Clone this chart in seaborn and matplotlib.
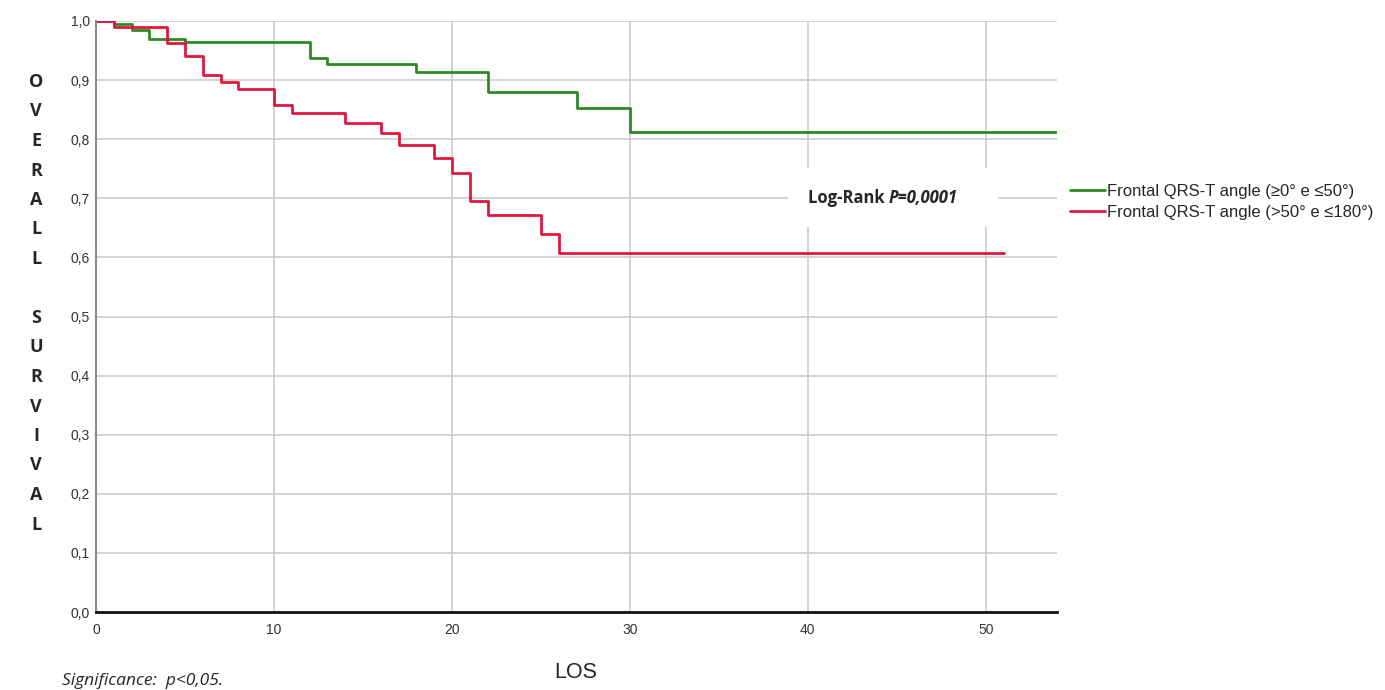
import pandas as pd
import matplotlib
matplotlib.use("Agg")
import matplotlib.pyplot as plt
import seaborn as sns
from matplotlib.patches import Rectangle
from matplotlib.lines import Line2D

# Kaplan-Meier step values
green_label = "Frontal QRS-T angle (\u22650\u00b0 e \u226450\u00b0)"
green_times = [0, 1, 2, 3, 5, 12, 13, 18, 22, 27, 30, 54]
green_surv = [1.0, 0.995, 0.985, 0.969, 0.964, 0.937, 0.927, 0.913, 0.880, 0.852, 0.812, 0.812]

red_label = "Frontal QRS-T angle (>50\u00b0 e \u2264180\u00b0)"
red_times = [0, 1, 4, 5, 6, 7, 8, 10, 11, 14, 16, 17, 19, 20, 21, 22, 25, 26, 51]
red_surv = [1.0, 0.990, 0.962, 0.940, 0.908, 0.897, 0.885, 0.858, 0.844, 0.828,
            0.810, 0.790, 0.768, 0.743, 0.696, 0.672, 0.640, 0.608, 0.608]

x_ticks = [0, 10, 20, 30, 40, 50]
y_ticks = [0.0, 0.1, 0.2, 0.3, 0.4, 0.5, 0.6, 0.7, 0.8, 0.9, 1.0]
y_ticklabels = ["0,0", "0,1", "0,2", "0,3", "0,4", "0,5", "0,6", "0,7", "0,8", "0,9", "1,0"]
ylabel_text = "OVERALL SURVIVAL"

green_col = "#2b8a24"
red_col = "#e2173f"

df = pd.concat([
    pd.DataFrame({"LOS": green_times, "surv": green_surv, "group": green_label}),
    pd.DataFrame({"LOS": red_times, "surv": red_surv, "group": red_label}),
])

sns.set_style("white")
plt.rcParams["font.family"] = ["Liberation Sans", "DejaVu Sans"]

fig = plt.figure(figsize=(13.85, 6.9), dpi=100)
ax = fig.add_axes([96 / 1385, 78 / 690, (1057 - 96) / 1385, (612 - 21) / 690])

sns.lineplot(data=df, x="LOS", y="surv", hue="group", estimator=None, sort=False,
             drawstyle="steps-post", palette=[green_col, red_col], linewidth=2,
             legend=False, ax=ax, zorder=3)

ax.set_xlim(0, 54)
ax.set_ylim(0, 1.0)
ax.set_xticks(x_ticks)
ax.set_yticks(y_ticks)
ax.set_yticklabels(y_ticklabels)
ax.tick_params(axis="both", length=0, labelsize=10, colors="#333333")
ax.tick_params(axis="x", pad=8)
ax.tick_params(axis="y", pad=4.5)
ax.set_xlabel("")
ax.set_ylabel("")
ax.set_axisbelow(True)
ax.grid(True, color="#cccccc", linewidth=1.2)
ax.yaxis.get_gridlines()[0].set_visible(False)

for s in ["top", "right"]:
    ax.spines[s].set_visible(False)
ax.spines["left"].set_color("#8c8c8c")
ax.spines["left"].set_linewidth(1.5)
ax.spines["bottom"].set_color("#111111")
ax.spines["bottom"].set_linewidth(2)
ax.spines["left"].set_zorder(4)
ax.spines["bottom"].set_zorder(4)

# white box for the log-rank annotation
ax.add_patch(Rectangle((38.9, 0.652), 11.8, 0.1, facecolor="white", edgecolor="none", zorder=1))
t1 = ax.text(40.0, 0.70, "Log-Rank ", fontsize=12, fontweight="bold",
             family="Open Sans", va="center", ha="left", zorder=5)
ax.annotate("P=0,0001", xy=(1, 0), xycoords=t1, va="bottom", ha="left",
            fontsize=12, fontweight="bold", fontstyle="italic",
            family="Open Sans", zorder=5)

# stacked y-axis label
y0 = 1 - 82 / 690
step = 29.5 / 690
for i, ch in enumerate(ylabel_text):
    if ch != " ":
        fig.text(36 / 1385, y0 - i * step, ch, fontsize=13, fontweight="bold",
                 family="Open Sans", ha="center", va="center")

fig.text(576 / 1385, 1 - 672 / 690, "LOS", fontsize=15.5, ha="center", va="center")
fig.text(62 / 1385, 1 - 681 / 690, "Significance:  p<0,05.", fontsize=12.5,
         fontstyle="italic", family="Open Sans", ha="left", va="center")

handles = [Line2D([], [], color=green_col, linewidth=2),
           Line2D([], [], color=red_col, linewidth=2)]
fig.legend(handles, [green_label, red_label], loc="center left",
           bbox_to_anchor=(1070 / 1385, 1 - 202 / 690), frameon=False,
           fontsize=12, handlelength=2.1, handletextpad=0.12, labelspacing=0.35,
           borderpad=0, borderaxespad=0)

fig.savefig("out.png", dpi=100)
